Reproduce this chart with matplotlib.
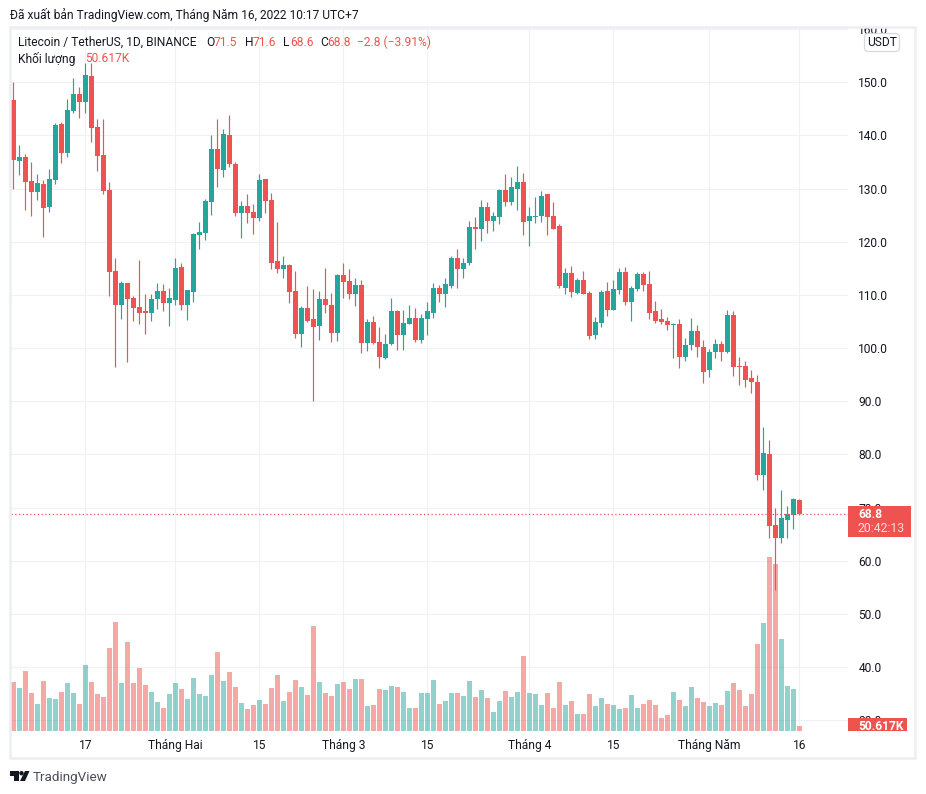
import matplotlib
matplotlib.use("Agg")
import matplotlib.pyplot as plt
from matplotlib.patches import Rectangle, FancyBboxPatch, Polygon, Circle

W, H = 926, 794
FONT = ["Roboto", "DejaVu Sans"]
plt.rcParams["font.family"] = FONT

RED = "#ef5350"
GREEN = "#26a69a"
TEXT = "#131722"
GRID = "#eef1f6"
FRAME = "#eceef4"
FS = 8.64

opens = [146.7,135.2,135.9,131.4,129.4,130.8,126.5,131.6,142.1,136.7,144.6,147.8,146.3,151.2,141.6,136.3,129.7,114.6,108.2,112.3,
         109.5,107.8,107.0,106.7,109.3,110.8,108.4,109.1,115.2,108.2,110.6,121.2,121.6,127.4,137.4,133.5,140.1,134.6,125.5,126.7,
         125.7,124.4,131.8,127.8,116.3,114.8,115.6,110.7,102.6,107.5,105.4,104.1,109.2,108.1,102.8,113.7,112.6,110.1,111.8,100.9,
         104.9,101.1,98.1,100.7,106.9,102.4,104.5,105.6,101.5,105.4,106.7,111.4,110.1,111.6,116.9,114.8,116.0,122.7,122.4,126.5,
         123.9,124.6,129.7,127.4,129.9,131.2,123.9,124.6,124.8,128.9,124.8,122.9,111.4,114.1,110.3,112.8,110.3,102.4,104.7,110.7,
         107.1,110.9,114.3,108.6,111.2,113.9,112.0,106.9,105.4,105.2,104.4,104.6,98.4,100.5,103.3,100.3,95.8,99.2,100.7,99.2,
         106.3,96.7,96.7,94.3,93.7,76.1,80.0,66.7,64.3,67.6,68.6,71.5]
closes = [135.4,135.9,131.3,129.4,131.0,126.4,131.8,141.9,136.7,144.8,147.8,146.3,151.4,141.4,136.1,129.5,114.4,108.2,112.3,109.3,
          107.6,106.7,106.7,109.3,110.8,108.4,109.5,115.0,108.2,111.0,121.4,121.8,127.6,137.4,133.6,140.3,134.6,125.5,126.7,125.5,
          124.4,131.6,127.6,116.1,114.8,115.6,110.5,102.6,107.5,105.2,103.9,109.2,108.1,102.8,113.7,112.4,110.1,111.8,100.9,104.9,
          100.9,98.3,100.7,106.9,102.4,104.7,105.6,101.5,105.6,106.9,111.4,110.1,112.0,116.9,114.8,116.1,122.7,122.4,126.5,123.9,
          124.8,129.7,127.4,130.3,131.2,123.7,124.8,124.8,128.7,124.6,122.5,111.6,114.1,110.5,112.8,110.1,102.2,104.9,110.5,107.1,
          111.1,114.3,108.6,111.4,113.9,111.8,106.7,105.2,105.0,104.4,104.6,98.4,100.5,103.3,100.3,95.6,99.3,100.7,99.2,106.3,
          96.5,96.5,94.1,93.7,76.1,80.2,66.5,64.3,68.0,68.9,71.6,68.8]
highs = [150.1,138.2,136.6,135.0,132.7,131.6,133.6,142.3,142.5,146.9,150.8,149.1,153.7,153.6,143.1,143.1,131.2,117.0,112.7,112.3,
         109.9,116.5,110.1,110.1,112.3,112.1,111.4,116.9,116.1,111.0,121.6,123.8,128.0,140.1,143.1,141.2,143.8,135.0,127.6,128.9,
         127.1,132.7,131.9,129.1,123.7,117.3,115.8,114.6,107.9,111.6,111.1,110.7,115.0,110.3,113.9,116.1,114.8,113.1,112.8,105.4,
         106.0,103.9,102.6,109.4,107.1,107.1,108.1,107.5,106.4,108.6,112.2,111.8,113.1,117.3,118.6,116.9,123.9,124.6,127.8,127.4,
         125.7,129.9,132.7,132.1,134.2,132.9,126.5,128.4,129.5,128.9,127.4,123.3,115.0,115.4,113.1,114.6,110.7,105.8,110.9,112.4,
         112.9,115.0,115.2,111.6,114.3,114.3,114.6,108.8,107.3,105.9,104.8,105.4,102.0,105.7,104.4,101.6,99.9,101.8,101.4,107.1,
         106.9,98.4,97.5,95.8,94.9,85.1,82.8,69.9,73.3,70.3,71.8,71.6]
lows = [129.9,132.5,125.9,124.8,127.8,120.9,125.7,130.8,134.8,135.9,144.2,143.3,144.3,138.7,133.3,128.9,109.9,96.4,105.5,97.4,
        105.2,104.6,102.7,105.2,107.4,107.0,104.2,108.2,107.2,105.3,108.7,118.7,120.4,125.0,130.4,132.1,134.0,124.8,120.8,123.5,
        121.4,124.0,125.5,114.8,114.1,113.1,108.4,102.0,100.2,104.9,90.0,101.5,106.6,101.1,101.3,109.4,109.2,107.9,99.0,99.4,
        100.7,96.2,97.9,100.5,99.6,99.6,104.5,101.1,100.9,102.4,105.6,108.6,107.7,111.4,111.4,113.1,115.6,118.6,120.1,121.6,
        122.0,123.3,126.7,127.0,125.9,121.2,119.2,123.5,123.7,121.2,122.5,111.4,110.1,109.6,110.1,110.1,101.8,101.7,103.9,106.0,
        107.1,110.1,108.2,105.2,110.7,110.7,105.4,104.7,104.5,103.5,98.2,96.3,97.6,99.7,98.4,93.5,94.5,98.2,97.5,99.0,
        94.8,93.0,92.6,91.5,75.2,73.3,64.3,54.6,63.4,64.3,66.0,68.6]
volumes_k = [500,440,610,380,270,510,330,320,390,490,380,270,670,500,370,340,840,1100,490,900,
             490,640,470,390,290,230,370,490,430,320,540,370,350,570,800,510,600,450,280,220,
             260,310,270,440,570,300,390,520,450,360,1060,500,380,350,480,500,430,530,530,250,
             260,430,410,460,450,390,230,230,380,380,520,270,300,380,380,350,510,340,410,330,
             190,300,400,340,390,760,380,370,260,380,230,500,260,300,170,170,370,250,330,270,
             260,220,230,360,230,270,310,260,130,160,390,310,250,450,330,290,250,280,260,400,
             490,410,250,370,880,1090,1760,1690,930,460,420,50.617]

price_ticks = [30,40,50,60,70,80,90,100,110,120,130,140,150,160]
date_ticks = [12,27,41,55,69,86,100,116,131]
date_labels = ["17","Tháng Hai","15","Tháng 3","15","Tháng 4","15","Tháng Năm","16"]
last_price = 68.8

fig = plt.figure(figsize=(W/100, H/100), dpi=100, facecolor="white")

# main pane in pixel box x 11..848, y 28..731
L, R, T, B = 11, 848, 28, 731
ax = fig.add_axes([L/W, 1-B/H, (R-L)/W, (B-T)/H])
ax.set_xlim((L-13.3)/6, (R-13.3)/6)
ax.set_ylim(150-(B-82.3)/5.317, 150+(82.3-T)/5.317)

idx = list(range(len(opens)))
cols = [GREEN if c >= o else RED for o, c in zip(opens, closes)]

# volume on its own scale, about 10.12K per pixel
vax = ax.twinx()
vax.set_ylim(0, (B-T)*10.12)
vax.axis("off")
vax.bar(idx, volumes_k, width=0.82, color=cols, alpha=0.5, lw=0)
vax.set_zorder(1)

pax = ax.twinx()
pax.set_ylim(ax.get_ylim())
pax.axis("off")
pax.set_zorder(2)
pax.vlines(idx, lows, highs, colors=cols, lw=0.85)
pax.bar(idx, [abs(c-o) for o, c in zip(opens, closes)],
        bottom=[min(o, c) for o, c in zip(opens, closes)],
        width=0.82, color=cols, lw=0)
pax.axhline(last_price, color=RED, lw=0.9, ls=(0, (1, 2)))

# the twins move the price ticks to the left, so set them up afterwards
for s in ax.spines.values():
    s.set_visible(False)
ax.set_axisbelow(True)
ax.yaxis.tick_right()
ax.set_yticks(price_ticks)
ax.set_yticklabels([f"{p:.1f}" for p in price_ticks], fontsize=FS, color=TEXT, va="center_baseline")
ax.set_xticks(date_ticks)
ax.set_xticklabels(date_labels, fontsize=FS, color=TEXT)
ax.tick_params(length=0)
ax.tick_params(axis="y", pad=7.5)
ax.tick_params(axis="x", pad=5.5)
ax.grid(True, axis="both", color=GRID, lw=0.8)

# chrome overlay in pixel coordinates
ov = fig.add_axes([0, 0, 1, 1], zorder=10)
ov.set_xlim(0, W)
ov.set_ylim(H, 0)
ov.axis("off")
ov.patch.set_visible(False)
ov.add_patch(Rectangle((0, 0), W, 28, fc="white", ec="none"))
ov.add_patch(Rectangle((848, 731), 67, 27, fc="white", ec="none"))
ov.add_patch(Rectangle((10, 27), 905, 731, fc="none", ec=FRAME, lw=1.8))

def t(x, y, s, color=TEXT, size=FS, **kw):
    return ov.text(x, y, s, color=color, fontsize=size, va="center", ha=kw.pop("ha", "left"), **kw)

t(10, 15, "Đã xuất bản TradingView.com, Tháng Năm 16, 2022 10:17 UTC+7")
t(18, 42, "Litecoin / TetherUS, 1D, BINANCE")
for xp, s, c in [(206,"O",TEXT),(214,"71.5",RED),(245,"H",TEXT),(253,"71.6",RED),(283,"L",TEXT),(290,"68.6",RED),
                 (320,"C",TEXT),(327,"68.8",RED),(357,"−2.8 (−3.91%)",RED)]:
    t(xp, 42, s, color=c)
t(18, 59, "Khối lượng")
t(85, 59, "50.617K", color=RED)

ov.add_patch(FancyBboxPatch((864.5, 33.5), 35, 18, boxstyle="round,pad=0,rounding_size=4",
                            fc="white", ec="#d6d9e0", lw=0.9))
t(882, 43, "USDT", ha="center")

ov.add_patch(Rectangle((848, 506), 63, 31, fc=RED, ec="none"))
t(858, 515, "68.8", color="white", fontweight="bold")
t(858, 529, "20:42:13", color="#fcdcdb", size=8.8)
ov.add_patch(Rectangle((848, 718), 59, 13, fc=RED, ec="none"))
lab = t(858, 727, "50.617K", color="white", fontweight="bold")
lab.set_clip_path(Rectangle((848, 718), 59, 13, transform=ov.transData))

# logo
LOGO = "#131722"
ov.add_patch(Polygon([(10,771),(18.5,771),(18.5,781),(14,781),(14,775.5),(10,775.5)], fc=LOGO, ec="none"))
ov.add_patch(Circle((21.5,773.2), 2.2, fc=LOGO, ec="none"))
ov.add_patch(Polygon([(25,771),(29.5,771),(25,781),(20,781)], fc=LOGO, ec="none"))
t(33, 777, "TradingView", color="#4a4e59", size=9.7)

fig.savefig("out.png", dpi=100, facecolor="white")
